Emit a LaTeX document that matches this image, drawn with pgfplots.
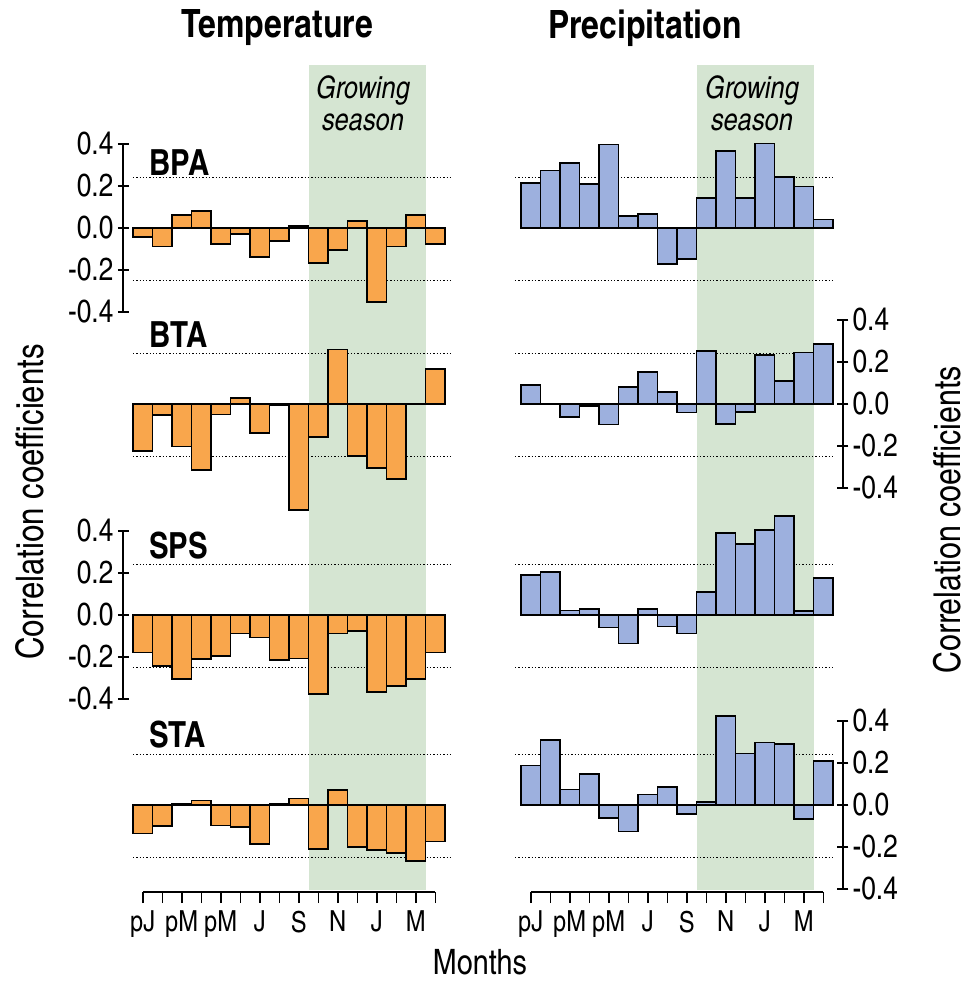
\documentclass[border=0pt]{standalone}
\usepackage{pgfplots}
\usepackage{pgfplotstable}
\pgfplotsset{compat=1.18}
\usepackage{fontspec}
\setmainfont{texgyreheroscn}[Extension=.otf, UprightFont=*-regular, BoldFont=*-bold, ItalicFont=*-italic, BoldItalicFont=*-bolditalic]

\definecolor{tempc}{HTML}{F9A64C}
\definecolor{precc}{HTML}{9DB0DE}
\definecolor{growc}{HTML}{D5E5D2}

% temperature correlations, 16 months (pJan .. Apr)
\pgfplotstableread{
m BPA BTA SPS STA
1 -0.043 -0.224 -0.178 -0.135
2 -0.088 -0.053 -0.244 -0.100
3 0.061 -0.202 -0.304 0.005
4 0.080 -0.314 -0.210 0.022
5 -0.075 -0.050 -0.196 -0.097
6 -0.029 0.030 -0.088 -0.105
7 -0.139 -0.138 -0.107 -0.185
8 -0.061 -0.005 -0.215 0.006
9 0.011 -0.506 -0.207 0.031
10 -0.168 -0.157 -0.377 -0.210
11 -0.104 0.259 -0.088 0.072
12 0.035 -0.248 -0.075 -0.200
13 -0.352 -0.304 -0.366 -0.215
14 -0.088 -0.357 -0.339 -0.229
15 0.061 0.003 -0.304 -0.265
16 -0.075 0.166 -0.178 -0.174
}\temp

% precipitation correlations
\pgfplotstableread{
m BPA BTA SPS STA
1 0.216 0.089 0.191 0.188
2 0.274 -0.002 0.205 0.309
3 0.309 -0.062 0.021 0.074
4 0.210 -0.008 0.029 0.149
5 0.398 -0.098 -0.060 -0.063
6 0.056 0.080 -0.135 -0.126
7 0.066 0.152 0.029 0.050
8 -0.171 0.056 -0.054 0.085
9 -0.147 -0.041 -0.088 -0.044
10 0.144 0.253 0.111 0.016
11 0.366 -0.095 0.390 0.425
12 0.144 -0.039 0.339 0.246
13 0.403 0.234 0.406 0.298
14 0.243 0.109 0.470 0.292
15 0.198 0.245 0.019 -0.067
16 0.040 0.287 0.175 0.210
}\prec

\pgfplotsset{
  panel/.style={scale only axis, width=165.75pt, height=84pt,
    xmin=0, xmax=17, ymin=-0.4, ymax=0.4, anchor=south west, clip=false,
    axis line style={line width=0.75pt}, tick style={line width=0.75pt, black},
    major tick length=5.5pt, tick align=outside,
    ytick={-0.4,-0.2,0,0.2,0.4}, yticklabels={-0.4,-0.2,0.0,0.2,0.4},
    yticklabel style={font=\fontsize{16}{16}\selectfont, inner sep=2pt}},
  leftax/.style={axis y line=left, axis x line=none, y axis line style={-}},
  rightax/.style={axis y line=right, axis x line=none, y axis line style={-}},
  bars/.style={ybar, bar width=1, draw=black, line width=0.85pt},
  sig/.style={black, line width=0.65pt, dash pattern=on 0.65pt off 1pt},
  monthax/.style={scale only axis, width=146.25pt, height=5pt,
    xmin=1, xmax=16, ymin=0, ymax=1, anchor=south west,
    axis x line=bottom, axis y line=none, x axis line style={-, line width=0.75pt},
    tick style={line width=0.75pt, black}, major tick length=5.5pt, tick align=outside,
    xtick={1,...,16}, xticklabels={pJ,,pM,,pM,,J,,S,,N,,J,,M,},
    xticklabel style={font=\fontsize{14.5}{14.5}\selectfont, yshift=-0.5pt}},
  growax/.style={scale only axis, width=165.75pt, height=412.5pt,
    xmin=0, xmax=17, ymin=0, ymax=1, hide axis, anchor=south west},
}

\begin{document}
\begin{tikzpicture}
\useasboundingbox (0,0) rectangle (483pt,-490.5pt);

% growing season shading
\begin{axis}[growax, at={(61.625pt,-445pt)}]
\addplot[fill=growc, draw=none] coordinates {(9.5,0) (9.5,1) (15.5,1) (15.5,0)};
\end{axis}
\begin{axis}[growax, at={(255.625pt,-445pt)}]
\addplot[fill=growc, draw=none] coordinates {(9.5,0) (9.5,1) (15.5,1) (15.5,0)};
\end{axis}

% temperature column
\begin{axis}[panel, leftax, at={(61.625pt,-156pt)}]
\addplot[sig] coordinates {(0.5,0.24) (16.8,0.24)};
\addplot[sig] coordinates {(0.5,-0.25) (16.8,-0.25)};
\addplot[bars, fill=tempc] table[x=m, y=BPA] {\temp};
\end{axis}
\begin{axis}[panel, hide axis, at={(61.625pt,-244pt)}]
\addplot[sig] coordinates {(0.5,0.24) (16.8,0.24)};
\addplot[sig] coordinates {(0.5,-0.25) (16.8,-0.25)};
\addplot[bars, fill=tempc] table[x=m, y=BTA] {\temp};
\end{axis}
\begin{axis}[panel, leftax, at={(61.625pt,-349.5pt)}]
\addplot[sig] coordinates {(0.5,0.24) (16.8,0.24)};
\addplot[sig] coordinates {(0.5,-0.25) (16.8,-0.25)};
\addplot[bars, fill=tempc] table[x=m, y=SPS] {\temp};
\end{axis}
\begin{axis}[panel, hide axis, at={(61.625pt,-444.5pt)}]
\addplot[sig] coordinates {(0.5,0.24) (16.8,0.24)};
\addplot[sig] coordinates {(0.5,-0.25) (16.8,-0.25)};
\addplot[bars, fill=tempc] table[x=m, y=STA] {\temp};
\end{axis}

% precipitation column
\begin{axis}[panel, hide axis, at={(255.625pt,-156pt)}]
\addplot[sig] coordinates {(0.2,0.24) (16.45,0.24)};
\addplot[sig] coordinates {(0.2,-0.25) (16.45,-0.25)};
\addplot[bars, fill=precc] table[x=m, y=BPA] {\prec};
\end{axis}
\begin{axis}[panel, rightax, at={(255.625pt,-244pt)}]
\addplot[sig] coordinates {(0.2,0.24) (16.45,0.24)};
\addplot[sig] coordinates {(0.2,-0.25) (16.45,-0.25)};
\addplot[bars, fill=precc] table[x=m, y=BTA] {\prec};
\end{axis}
\begin{axis}[panel, hide axis, at={(255.625pt,-349.5pt)}]
\addplot[sig] coordinates {(0.2,0.24) (16.45,0.24)};
\addplot[sig] coordinates {(0.2,-0.25) (16.45,-0.25)};
\addplot[bars, fill=precc] table[x=m, y=SPS] {\prec};
\end{axis}
\begin{axis}[panel, rightax, at={(255.625pt,-444.5pt)}]
\addplot[sig] coordinates {(0.2,0.24) (16.45,0.24)};
\addplot[sig] coordinates {(0.2,-0.25) (16.45,-0.25)};
\addplot[bars, fill=precc] table[x=m, y=STA] {\prec};
\end{axis}

% month axes
\begin{axis}[monthax, at={(71.375pt,-446pt)}]
\addplot[draw=none] coordinates {(1,0.5) (16,0.5)};
\end{axis}
\begin{axis}[monthax, at={(265.375pt,-446pt)}]
\addplot[draw=none] coordinates {(1,0.5) (16,0.5)};
\end{axis}

% texts
\node[font=\bfseries\fontsize{19.5}{19.5}\selectfont] at (138.5pt,-14pt) {Temperature};
\node[font=\bfseries\fontsize{19.5}{19.5}\selectfont] at (322.5pt,-14pt) {Precipitation};
\node[font=\itshape\fontsize{15.5}{16}\selectfont, align=center] at (181.5pt,-51.5pt) {Growing\\season};
\node[font=\itshape\fontsize{15.5}{16}\selectfont, align=center] at (376pt,-51.5pt) {Growing\\season};
\node[font=\bfseries\fontsize{18}{18}\selectfont, anchor=west] at (71pt,-81.5pt) {BPA};
\node[font=\bfseries\fontsize{18}{18}\selectfont, anchor=west] at (71pt,-167.5pt) {BTA};
\node[font=\bfseries\fontsize{18}{18}\selectfont, anchor=west] at (71pt,-273pt) {SPS};
\node[font=\bfseries\fontsize{18}{18}\selectfont, anchor=west] at (71pt,-367.5pt) {STA};
\node[font=\fontsize{19}{19}\selectfont, rotate=90, inner sep=0pt] at (15pt,-251pt) {Correlation coefficients};
\node[font=\fontsize{18.5}{18.5}\selectfont, rotate=90, inner sep=0pt] at (473.5pt,-260pt) {Correlation coefficients};
\node[font=\fontsize{17.5}{17.5}\selectfont] at (240pt,-481pt) {Months};
\end{tikzpicture}
\end{document}
